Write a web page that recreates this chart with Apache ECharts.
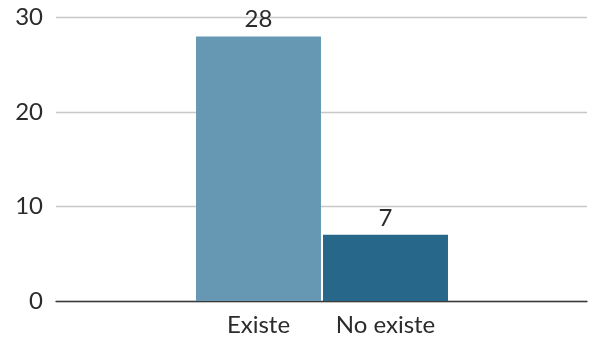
<!DOCTYPE html>
<html><head><meta charset="utf-8">
<script src="https://cdn.jsdelivr.net/npm/echarts@6/dist/echarts.min.js"></script>
<style>html,body{margin:0;padding:0;background:#fff}#c{width:589px;height:341px}</style>
</head><body><div id="c"></div>
<script>
const categories = ['Existe', 'No existe'];
const values = [28, 7];
const barColors = ['#6698b4', '#276789'];
const yTicks = [0, 10, 20, 30];

const font = 'Lato';
const chart = echarts.init(document.getElementById('c'));
chart.setOption({
  animation: false,
  grid: [
    {left: 56, right: 2, top: 17.5, bottom: 40},
    {left: 195, right: 140, top: 17.5, bottom: 40}
  ],
  xAxis: [
    {gridIndex: 0, type: 'category', data: [''], axisTick: {show: false}, axisLabel: {show: false},
     axisLine: {lineStyle: {color: '#3a3a3a', width: 1.3}}},
    {gridIndex: 1, type: 'category', data: categories, axisTick: {show: false},
     axisLine: {show: false},
     axisLabel: {interval: 0, hideOverlap: false, fontFamily: font, fontSize: 24, color: '#2b2b2b', margin: 12}}
  ],
  yAxis: [
    {gridIndex: 0, type: 'value', min: yTicks[0], max: yTicks[yTicks.length - 1], interval: 10,
     axisLine: {show: false}, axisTick: {show: false},
     axisLabel: {fontFamily: font, fontSize: 24, color: '#2b2b2b', margin: 13},
     splitLine: {lineStyle: {color: '#c8c8c8', width: 1.3}}},
    {gridIndex: 1, type: 'value', min: yTicks[0], max: yTicks[yTicks.length - 1], interval: 10,
     show: false, splitLine: {show: false}}
  ],
  series: [{
    type: 'bar', xAxisIndex: 1, yAxisIndex: 1,
    barCategoryGap: '1.6%',
    data: values.map((v, i) => ({value: v, itemStyle: {color: barColors[i]}})),
    label: {show: true, position: 'top', distance: 5, fontFamily: font, fontSize: 24, color: '#2b2b2b'}
  }]
});
</script></body></html>
